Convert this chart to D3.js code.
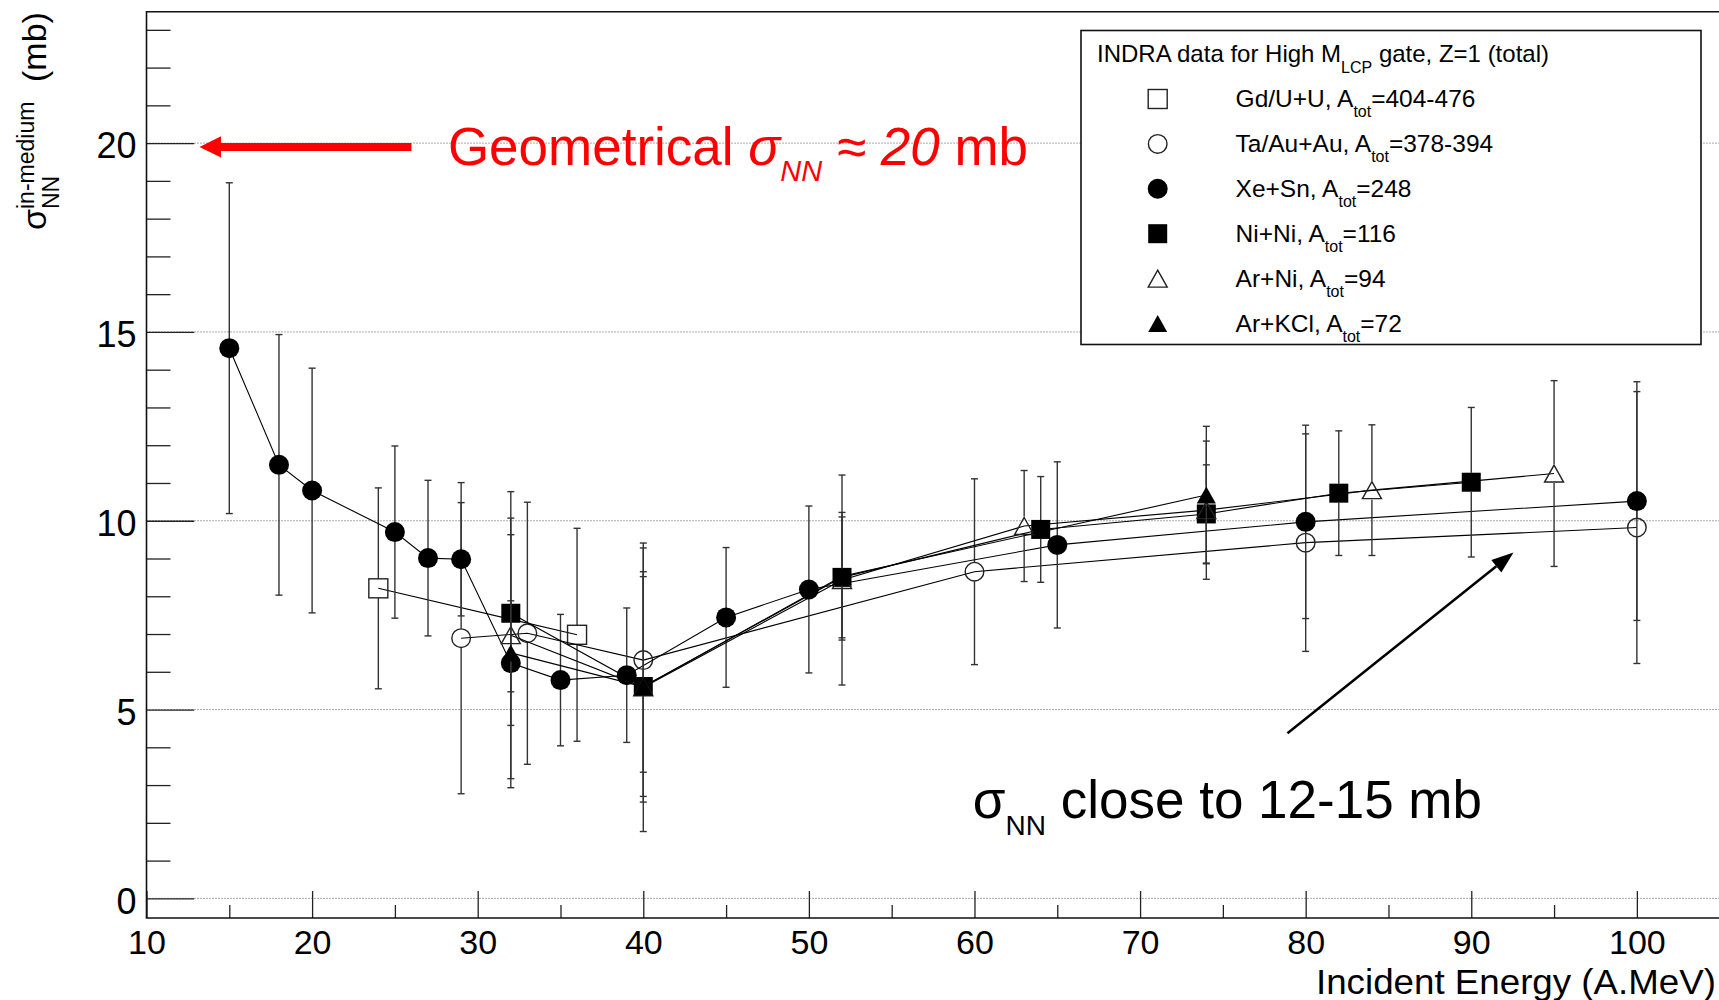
<!DOCTYPE html>
<html>
<head>
<meta charset="utf-8">
<script src="https://cdn.jsdelivr.net/npm/d3@7"></script>
<style>
  body { margin: 0; background: #fff; }
  svg { display: block; font-family: "Liberation Sans", Arial, Helvetica, sans-serif; }
</style>
</head>
<body>
<svg id="chart"></svg>
<script>
// ---- data (E in A.MeV, sigma in mb) ----
const gdE   = [24, 36];
const gdSig = [8.21, 6.98];
const gdErr = [2.66, 2.82];

const taE   = [29, 33, 40, 60, 80, 100];
const taSig = [6.89, 7.02, 6.31, 8.65, 9.42, 9.82];
const taErr = [4.12, 3.47, 2.97, 2.46, 2.88, 3.6];

const xeE   = [15, 18, 20, 25, 27, 29, 32, 35, 39, 45, 50, 65, 80, 100];
const xeSig = [14.57, 11.48, 10.8, 9.70, 9.01, 8.98, 6.23, 5.78, 5.91, 7.44, 8.18, 9.36, 9.97, 10.52];
const xeErr = [4.38, 3.45, 3.24, 2.28, 2.06, 1.5, 1.65, 1.74, 1.78, 1.85, 2.21, 2.2, 2.56, 3.16];

const niE   = [32, 40, 52, 64, 74, 82, 90];
const niSig = [7.55, 5.61, 8.50, 9.77, 10.18, 10.73, 11.02];
const niErr = [2.08, 2.91, 1.6, 1.4, 1.3, 1.65, 1.98];

const arniE   = [32, 40, 52, 63, 74, 84, 95];
const arniSig = [6.97, 5.59, 8.43, 9.86, 10.28, 10.81, 11.25];
const arniErr = [3.8, 3.82, 2.78, 1.47, 1.83, 1.73, 2.46];

const arkE   = [32, 40, 52, 74];
const arkSig = [6.5, 5.6, 8.53, 10.68];
const arkErr = [3.57, 3.05, 1.69, 1.82];

const legendSystems = ["Gd/U+U", "Ta/Au+Au", "Xe+Sn", "Ni+Ni", "Ar+Ni", "Ar+KCl"];
const legendAtot    = ["404-476", "378-394", "248", "116", "94", "72"];
const markerTypes   = ["openSquare", "openCircle", "filledCircle", "filledSquare", "openTriangle", "filledTriangle"];

const xTickLabels = [10, 20, 30, 40, 50, 60, 70, 80, 90, 100];
const yTickLabels = [0, 5, 10, 15, 20];

// annotation anchors, in data units
const geoArrowFrom = [26.0, 19.9], geoArrowTo = [13.2, 19.9];
const geoLabelAt = [28.2, 19.43];
const closeArrowFrom = [78.9, 4.37], closeArrowTo = [92.55, 9.16];
const closeLabelAt = [59.9, 2.12];

const series = [
  { e: gdE, v: gdSig, err: gdErr },
  { e: taE, v: taSig, err: taErr },
  { e: xeE, v: xeSig, err: xeErr },
  { e: niE, v: niSig, err: niErr },
  { e: arniE, v: arniSig, err: arniErr },
  { e: arkE, v: arkSig, err: arkErr }
].map((s, i) => ({ ...s, marker: markerTypes[i] }));

// ---- layout ----
const W = 1719, H = 1000;
const svg = d3.select("#chart").attr("width", W).attr("height", H);

const x = d3.scaleLinear().domain([10, 104.96]).range([146.5, 1719]);
const y = d3.scaleLinear().domain([-0.52, 23.48]).range([918, 11.7]);
const fLeft = x.range()[0], fRight = x.range()[1];
const fBottom = y.range()[0], fTop = y.range()[1];

// dotted horizontal grid
svg.append("g").selectAll("line")
  .data(yTickLabels).enter().append("line")
  .attr("x1", fLeft).attr("x2", fRight)
  .attr("y1", d => y(d)).attr("y2", d => y(d))
  .attr("stroke", "#555").attr("stroke-width", 1).attr("stroke-dasharray", "1,2");

// axes (ticks point inward, ROOT style)
const xAxis = svg.append("g").attr("transform", `translate(0,${fBottom})`)
  .call(d3.axisBottom(x).tickValues(xTickLabels).tickSize(-27).tickSizeOuter(0).tickPadding(12));
xAxis.append("g")
  .call(d3.axisBottom(x).tickValues(d3.range(15, 104, 10)).tickSize(-13).tickFormat(""));
xAxis.selectAll(".domain").remove();
xAxis.selectAll("text").attr("font-size", 34).attr("fill", "#000").attr("font-family", null);
xAxis.selectAll("line").attr("stroke", "#222").attr("stroke-width", 1.3);

const yAxis = svg.append("g").attr("transform", `translate(${fLeft},0)`)
  .call(d3.axisLeft(y).tickValues(yTickLabels).tickSize(-47.7).tickSizeOuter(0).tickPadding(10));
yAxis.append("g")
  .call(d3.axisLeft(y).tickValues(d3.range(1, 24).filter(v => v % 5 !== 0)).tickSize(-24).tickFormat(""));
yAxis.selectAll(".domain").remove();
yAxis.selectAll("text").attr("font-size", 36).attr("dy", "0.41em").attr("fill", "#000").attr("font-family", null);
yAxis.selectAll("line").attr("stroke", "#222").attr("stroke-width", 1.3);

// frame
svg.append("path")
  .attr("d", `M${fRight},${fTop}H${fLeft}V${fBottom}H${fRight}`)
  .attr("fill", "none").attr("stroke", "#111").attr("stroke-width", 1.6);

// axis titles
svg.append("text")
  .attr("x", 1716).attr("y", 994).attr("text-anchor", "end")
  .attr("font-size", 35).attr("textLength", 400).attr("lengthAdjust", "spacingAndGlyphs")
  .text("Incident Energy (A.MeV)");

const yl = svg.append("g").attr("transform", "translate(46,230) rotate(-90)");
yl.append("text").attr("x", 0).attr("y", 0).attr("font-size", 34).text("σ");
yl.append("text").attr("x", 21).attr("y", 13).attr("font-size", 23).text("NN");
yl.append("text").attr("x", 21).attr("y", -12).attr("font-size", 23).text("in-medium");
yl.append("text").attr("x", 148).attr("y", 0).attr("font-size", 34).text("(mb)");

// ---- markers ----
const MS = 19; // marker size in px
function drawMarker(g, type, cx, cy) {
  const h = MS / 2;
  const filled = type.startsWith("filled");
  const fill = filled ? "#000" : "none";
  const stroke = filled ? "none" : "#222";
  let m;
  if (type.endsWith("Circle")) {
    m = g.append("circle").attr("cx", cx).attr("cy", cy).attr("r", filled ? 10 : 9.3);
  } else if (type.endsWith("Square")) {
    m = g.append("rect").attr("x", cx - h).attr("y", cy - h).attr("width", MS).attr("height", MS);
  } else {
    const th = 8.5;
    m = g.append("path").attr("d", `M${cx},${cy - th}L${cx + h},${cy + th}L${cx - h},${cy + th}Z`);
  }
  m.attr("fill", fill).attr("stroke", stroke).attr("stroke-width", 1.4);
}

// ---- series: line, error bars, markers ----
const plot = svg.append("g");
series.forEach(s => {
  const pts = s.e.map((e, i) => ({ e, v: s.v[i], err: s.err[i] }));
  const g = plot.append("g");

  g.append("path").datum(pts)
    .attr("d", d3.line().x(d => x(d.e)).y(d => y(d.v)))
    .attr("fill", "none").attr("stroke", "#000").attr("stroke-width", 1.1);

  const gap = MS / 2;
  const eb = g.append("g").attr("stroke", "#333").attr("stroke-width", 1.4);
  pts.forEach(d => {
    const cx = x(d.e), cy = y(d.v), yt = y(d.v + d.err), yb = y(d.v - d.err);
    eb.append("line").attr("x1", cx).attr("x2", cx).attr("y1", yt).attr("y2", cy - gap);
    eb.append("line").attr("x1", cx).attr("x2", cx).attr("y1", cy + gap).attr("y2", yb);
    eb.append("line").attr("x1", cx - 3.5).attr("x2", cx + 3.5).attr("y1", yt).attr("y2", yt);
    eb.append("line").attr("x1", cx - 3.5).attr("x2", cx + 3.5).attr("y1", yb).attr("y2", yb);
  });

  pts.forEach(d => drawMarker(g, s.marker, x(d.e), y(d.v)));
});

// ---- annotations ----
// red arrow pointing at the 20 mb line
{
  const x0 = x(geoArrowFrom[0]), y0 = y(geoArrowFrom[1]);
  const x1 = x(geoArrowTo[0]);
  const hl = 21.5, hw = 10.7, sw = 4;
  svg.append("path")
    .attr("d", `M${x1},${y0}L${x1 + hl},${y0 - hw}L${x1 + hl},${y0 - sw}L${x0},${y0 - sw}L${x0},${y0 + sw}L${x1 + hl},${y0 + sw}L${x1 + hl},${y0 + hw}Z`)
    .attr("fill", "#ff0000");
}
const geoText = svg.append("text")
  .attr("x", x(geoLabelAt[0])).attr("y", y(geoLabelAt[1]))
  .attr("font-size", 53).attr("fill", "#ff0000");
geoText.append("tspan").text("Geometrical ");
geoText.append("tspan").attr("font-style", "italic").text("σ");
geoText.append("tspan").attr("font-style", "italic").attr("font-size", 29).attr("dy", 16).text("NN");
geoText.append("tspan").attr("dy", -16).text(" ≈ ");
geoText.append("tspan").attr("font-style", "italic").text("20");
geoText.append("tspan").text(" mb");

// black arrow
{
  const x0 = x(closeArrowFrom[0]), y0 = y(closeArrowFrom[1]);
  const x1 = x(closeArrowTo[0]), y1 = y(closeArrowTo[1]);
  const ang = Math.atan2(y1 - y0, x1 - x0);
  const hl = 22, hw = 8;
  const bx = x1 - hl * Math.cos(ang), by = y1 - hl * Math.sin(ang);
  svg.append("line").attr("x1", x0).attr("y1", y0).attr("x2", bx).attr("y2", by)
    .attr("stroke", "#000").attr("stroke-width", 2.5);
  const px = -Math.sin(ang) * hw, py = Math.cos(ang) * hw;
  svg.append("path")
    .attr("d", `M${x1},${y1}L${bx + px},${by + py}L${bx - px},${by - py}Z`)
    .attr("fill", "#000");
}
const closeText = svg.append("text")
  .attr("x", x(closeLabelAt[0])).attr("y", y(closeLabelAt[1]))
  .attr("font-size", 53).attr("fill", "#000");
closeText.append("tspan").text("σ");
closeText.append("tspan").attr("font-size", 28).attr("dy", 17).text("NN");
closeText.append("tspan").attr("dy", -17).text(" close to 12-15 mb");

// ---- legend ----
const lg = svg.append("g");
lg.append("rect")
  .attr("x", 1081).attr("y", 30.5).attr("width", 620).attr("height", 314)
  .attr("fill", "#fff").attr("stroke", "#111").attr("stroke-width", 1.6);
const title = lg.append("text").attr("x", 1097).attr("y", 61.7).attr("font-size", 24);
title.append("tspan").text("INDRA data for High M");
title.append("tspan").attr("font-size", 16).attr("dy", 11).text("LCP");
title.append("tspan").attr("dy", -11).text(" gate, Z=1 (total)");

legendSystems.forEach((name, i) => {
  const cy = 99 + i * 44.9;
  drawMarker(lg, markerTypes[i], 1157.7, cy);
  const t = lg.append("text").attr("x", 1235.6).attr("y", cy + 8.3).attr("font-size", 24.5);
  t.append("tspan").text(`${name}, A`);
  t.append("tspan").attr("font-size", 16).attr("dy", 10).text("tot");
  t.append("tspan").attr("dy", -10).text(`=${legendAtot[i]}`);
});
</script>
</body>
</html>
